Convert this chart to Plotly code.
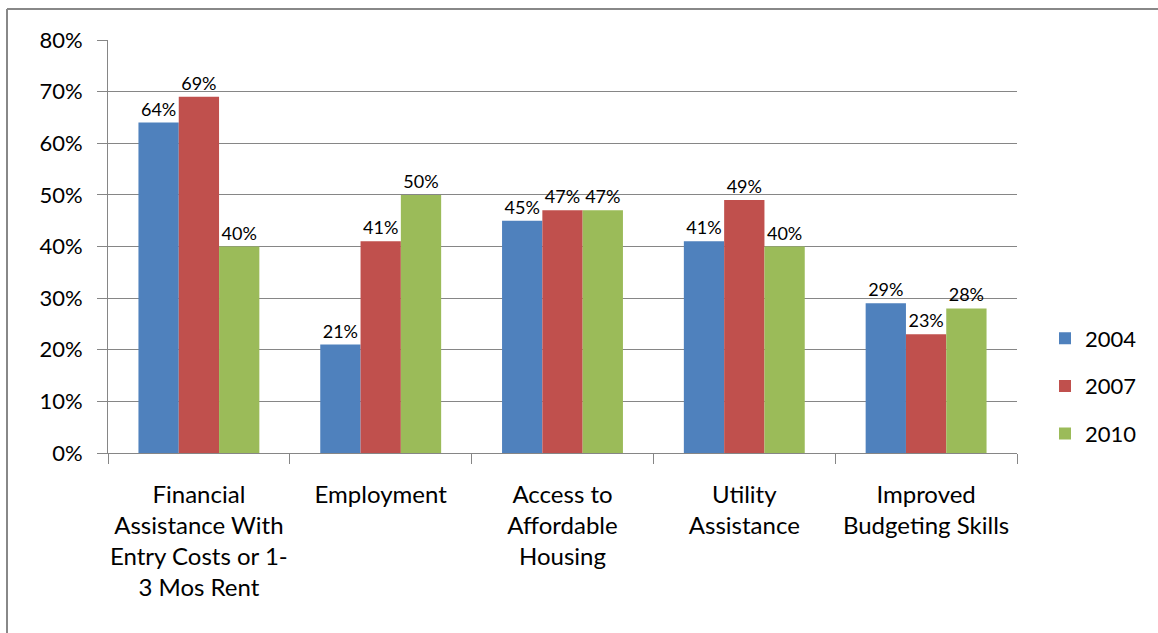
import plotly.graph_objects as go

categories = [
    "Financial<br>Assistance With<br>Entry Costs or 1-<br>3 Mos Rent",
    "Employment",
    "Access to<br>Affordable<br>Housing",
    "Utility<br>Assistance",
    "Improved<br>Budgeting Skills",
]
series_names = ["2004", "2007", "2010"]
values_2004 = [64, 21, 45, 41, 29]
values_2007 = [69, 41, 47, 49, 23]
values_2010 = [40, 50, 47, 40, 28]
colors = ["#4F81BD", "#C0504D", "#9BBB59"]
y_ticks = [0, 10, 20, 30, 40, 50, 60, 70, 80]

FONT = "Lato, 'Open Sans', sans-serif"
W, H = 1158, 633
L, R, T, B = 108, 141, 40, 180
pw, ph = W - L - R, H - T - B

fig = go.Figure()
for name, vals, col in zip(series_names, [values_2004, values_2007, values_2010], colors):
    fig.add_trace(go.Bar(
        x=categories, y=vals, name=name, legendgroup=name,
        marker=dict(color=col, line=dict(width=0)),
        text=[f"{v}%" for v in vals], textposition="outside",
        textfont=dict(family=FONT, size=18, color="#000000"),
        cliponaxis=False,
    ))

def px_x(x):
    return (x - L) / pw

def px_y(y):
    return (H - B - y) / ph

fig.update_layout(
    width=W, height=H,
    margin=dict(l=L, r=R, t=T, b=B, autoexpand=False),
    paper_bgcolor="white", plot_bgcolor="white",
    barmode="group", bargap=0.335, bargroupgap=0,
    font=dict(family=FONT, color="#000000"),
    showlegend=True,
    legend=dict(
        x=px_x(1045), y=px_y(386), xanchor="left", yanchor="middle",
        font=dict(family=FONT, size=22, color="#000000"),
        traceorder="grouped", tracegroupgap=16,
        itemwidth=30, bgcolor="rgba(0,0,0,0)",
    ),
    xaxis=dict(
        showgrid=False, showline=True, linecolor="#868686", linewidth=1,
        ticks="outside", tickson="boundaries", ticklen=10, tickcolor="#868686",
        tickfont=dict(family=FONT, size=24, color="#000000"),
        tickangle=0, ticklabelstandoff=20,
    ),
    yaxis=dict(
        range=[0, 80], tickvals=y_ticks, ticktext=[f"{v}%" for v in y_ticks],
        showgrid=True, gridcolor="#868686", gridwidth=1,
        showline=True, linecolor="#868686", linewidth=1,
        ticks="outside", ticklen=10, tickcolor="#868686",
        tickfont=dict(family=FONT, size=22, color="#000000"),
        ticklabelstandoff=10,
        zeroline=False,
    ),
    shapes=[
        dict(type="line", xref="paper", yref="paper",
             x0=px_x(7), y0=px_y(9), x1=px_x(1170), y1=px_y(9),
             line=dict(color="#888888", width=2)),
        dict(type="line", xref="paper", yref="paper",
             x0=px_x(7), y0=px_y(9), x1=px_x(7), y1=px_y(650),
             line=dict(color="#888888", width=2)),
    ],
)

fig.write_html("out.html")
